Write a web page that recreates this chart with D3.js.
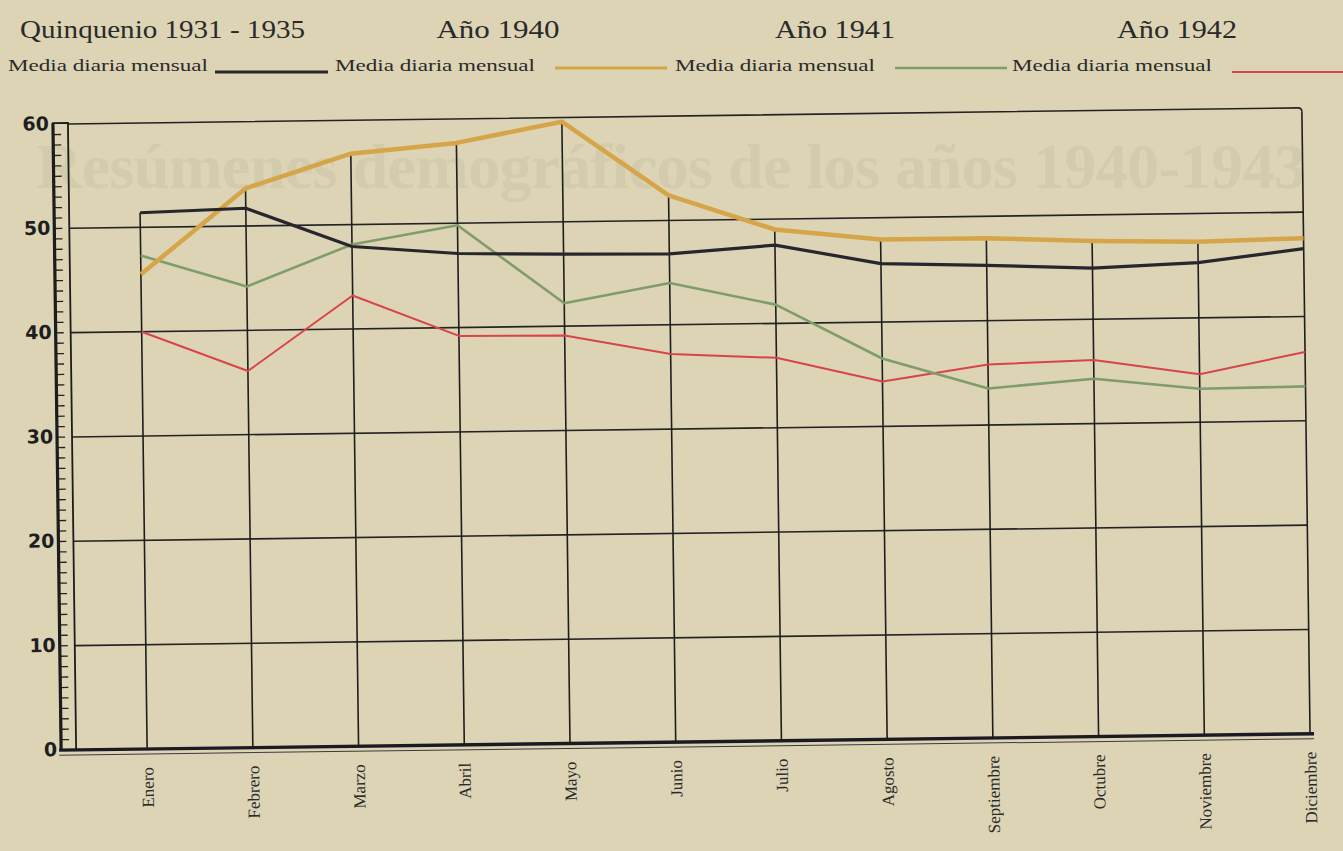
<!DOCTYPE html>
<html>
<head>
<meta charset="utf-8">
<script src="https://cdn.jsdelivr.net/npm/d3@7"></script>
<style>
  body { margin: 0; background: #dcd4b5; }
  svg { display: block; }
</style>
</head>
<body>
<div id="chart"></div>
<script>
// data (media diaria mensual)
const months = ["Enero", "Febrero", "Marzo", "Abril", "Mayo", "Junio", "Julio",
                "Agosto", "Septiembre", "Octubre", "Noviembre", "Diciembre"];
const quinquenio = [51.4, 51.7, 47.9, 47.1, 46.9, 46.8, 47.5, 45.6, 45.3, 44.9, 45.3, 46.5];
const anio1940   = [45.5, 53.6, 56.8, 57.7, 59.6, 52.4, 49.0, 47.9, 47.9, 47.5, 47.3, 47.5];
const anio1941   = [47.3, 44.2, 48.1, 49.8, 42.2, 44.0, 41.8, 36.5, 33.5, 34.3, 33.2, 33.3];
const anio1942   = [40.0, 36.1, 43.2, 39.2, 39.1, 37.2, 36.7, 34.3, 35.8, 36.1, 34.6, 36.6];

const headers = ["Quinquenio 1931 - 1935", "Año 1940", "Año 1941", "Año 1942"];
const legendLabel = "Media diaria mensual";
const yTicks = [0, 10, 20, 30, 40, 50, 60];

const series = [
  {name: headers[0], values: quinquenio, color: "#26262c", width: 3.2},
  {name: headers[1], values: anio1940, color: "#d6a548", width: 4.5},
  {name: headers[2], values: anio1941, color: "#7f9d6a", width: 2.6},
  {name: headers[3], values: anio1942, color: "#d8444a", width: 2}
];

const width = 1343, height = 851;
const serif = "'Liberation Serif', 'DejaVu Serif', serif";

const svg = d3.select("#chart").append("svg")
    .attr("width", width).attr("height", height);

svg.append("rect").attr("width", width).attr("height", height).attr("fill", "#dcd4b5");

// faint show-through of the facing page
svg.append("text")
    .attr("x", 36).attr("y", 188)
    .attr("font-family", serif).attr("font-weight", "bold")
    .attr("font-size", 64).attr("fill", "#d3cbad")
    .attr("textLength", 1270)
    .text("Resúmenes demográficos de los años 1940-1943");

// header row
const headerX = [20, 498, 835, 1177];
const headerW = [285, 123, 120, 120];
svg.selectAll(".hdr").data(headers).join("text")
    .attr("class", "hdr")
    .attr("x", (d, i) => headerX[i])
    .attr("y", 38)
    .attr("text-anchor", (d, i) => i == 0 ? "start" : "middle")
    .attr("font-family", serif).attr("font-size", 26).attr("fill", "#2b2a2a")
    .attr("textLength", (d, i) => headerW[i])
    .attr("lengthAdjust", "spacingAndGlyphs")
    .text(d => d);

// legend row
const legendX = [8, 335, 675, 1012];
const legend = svg.selectAll(".leg").data(series).join("g")
    .attr("class", "leg")
    .attr("transform", (d, i) => `translate(${legendX[i]},71)`);
legend.append("text")
    .attr("font-family", serif).attr("font-size", 17).attr("fill", "#2b2a2a")
    .attr("textLength", 200).attr("lengthAdjust", "spacingAndGlyphs")
    .text(legendLabel);
legend.append("line")
    .attr("x1", (d, i) => i == 0 ? 207 : 220)
    .attr("x2", (d, i) => i == 0 ? 320 : 332)
    .attr("y1", (d, i) => i == 0 || i == 3 ? 1 : -3)
    .attr("y2", (d, i) => i == 0 || i == 3 ? 1 : -3)
    .attr("stroke", d => d.color)
    .attr("stroke-width", d => Math.min(d.width, 3.2));

// chart body, slightly tilted like the scan
const g = svg.append("g").attr("transform", "rotate(-0.75,680,430)");

const x = d3.scalePoint().domain(months).range([143, 1306]);
const y = d3.scaleLinear().domain([0, 60]).range([742, 116]);

const rulerL = 57, rulerR = 72;
const right = x(months[months.length - 1]);

// horizontal grid
g.selectAll(".grid").data(yTicks.filter(t => t > 0 && t < 60)).join("line")
    .attr("class", "grid")
    .attr("x1", rulerR).attr("x2", right)
    .attr("y1", d => y(d)).attr("y2", d => y(d))
    .attr("stroke", "#232323").attr("stroke-width", 1.6);

// vertical month lines reach up to the highest value of the month
g.selectAll(".vline").data(months).join("line")
    .attr("class", "vline")
    .attr("x1", d => x(d)).attr("x2", d => x(d))
    .attr("y1", y(0))
    .attr("y2", (d, i) => i == months.length - 1 ? y(60) + 4 : y(d3.max(series, s => s.values[i])))
    .attr("stroke", "#1e1e1e").attr("stroke-width", 1.6);

// top edge with rounded corner at the right border
g.append("path")
    .attr("d", `M${rulerR},${y(60)} H${right - 4} Q${right},${y(60)} ${right},${y(60) + 4}`)
    .attr("fill", "none").attr("stroke", "#232323").attr("stroke-width", 1.6);

// ruler on the left
const minor = d3.range(1, 60);
g.selectAll(".mtick").data(minor).join("line")
    .attr("class", "mtick")
    .attr("x1", rulerL).attr("x2", rulerL + 8)
    .attr("y1", d => y(d)).attr("y2", d => y(d))
    .attr("stroke", "#222").attr("stroke-width", 1.3);
g.append("rect")
    .attr("x", rulerL).attr("y", y(60) - 1)
    .attr("width", rulerR - rulerL).attr("height", y(0) - y(60) + 1)
    .attr("fill", "none").attr("stroke", "#1c1c1c").attr("stroke-width", 1.8);
g.append("line")
    .attr("x1", rulerL).attr("x2", rulerL)
    .attr("y1", y(60) - 1).attr("y2", y(0))
    .attr("stroke", "#1c1c1c").attr("stroke-width", 3.2);

g.append("line")
    .attr("x1", rulerL - 2).attr("x2", right + 4)
    .attr("y1", y(0)).attr("y2", y(0))
    .attr("stroke", "#1a1a22").attr("stroke-width", 3.4);
g.append("line")
    .attr("x1", rulerL - 2).attr("x2", right + 4)
    .attr("y1", y(0) + 5).attr("y2", y(0) + 5)
    .attr("stroke", "#3a3a40").attr("stroke-width", 1);

g.selectAll(".ylab").data(yTicks).join("text")
    .attr("class", "ylab")
    .attr("x", rulerL - 4)
    .attr("y", d => y(d) + 6)
    .attr("text-anchor", "end")
    .attr("font-family", "'DejaVu Sans', sans-serif").attr("font-weight", "bold")
    .attr("font-size", 19).attr("fill", "#1e1e1e")
    .text(d => d);

// month labels, read bottom to top
g.selectAll(".xlab").data(months).join("text")
    .attr("class", "xlab")
    .attr("transform", d => `translate(${x(d) + 6},${y(0) + 18}) rotate(-90)`)
    .attr("text-anchor", "end")
    .attr("font-family", serif).attr("font-size", 17).attr("fill", "#2a2a2a")
    .text(d => d);

// series lines
const line = d3.line()
    .x((d, i) => x(months[i]))
    .y(d => y(d));

g.selectAll(".series").data(series.slice().reverse()).join("path")
    .attr("class", "series")
    .attr("d", d => line(d.values))
    .attr("fill", "none")
    .attr("stroke", d => d.color)
    .attr("stroke-width", d => d.width)
    .attr("stroke-linejoin", "round");
</script>
</body>
</html>
